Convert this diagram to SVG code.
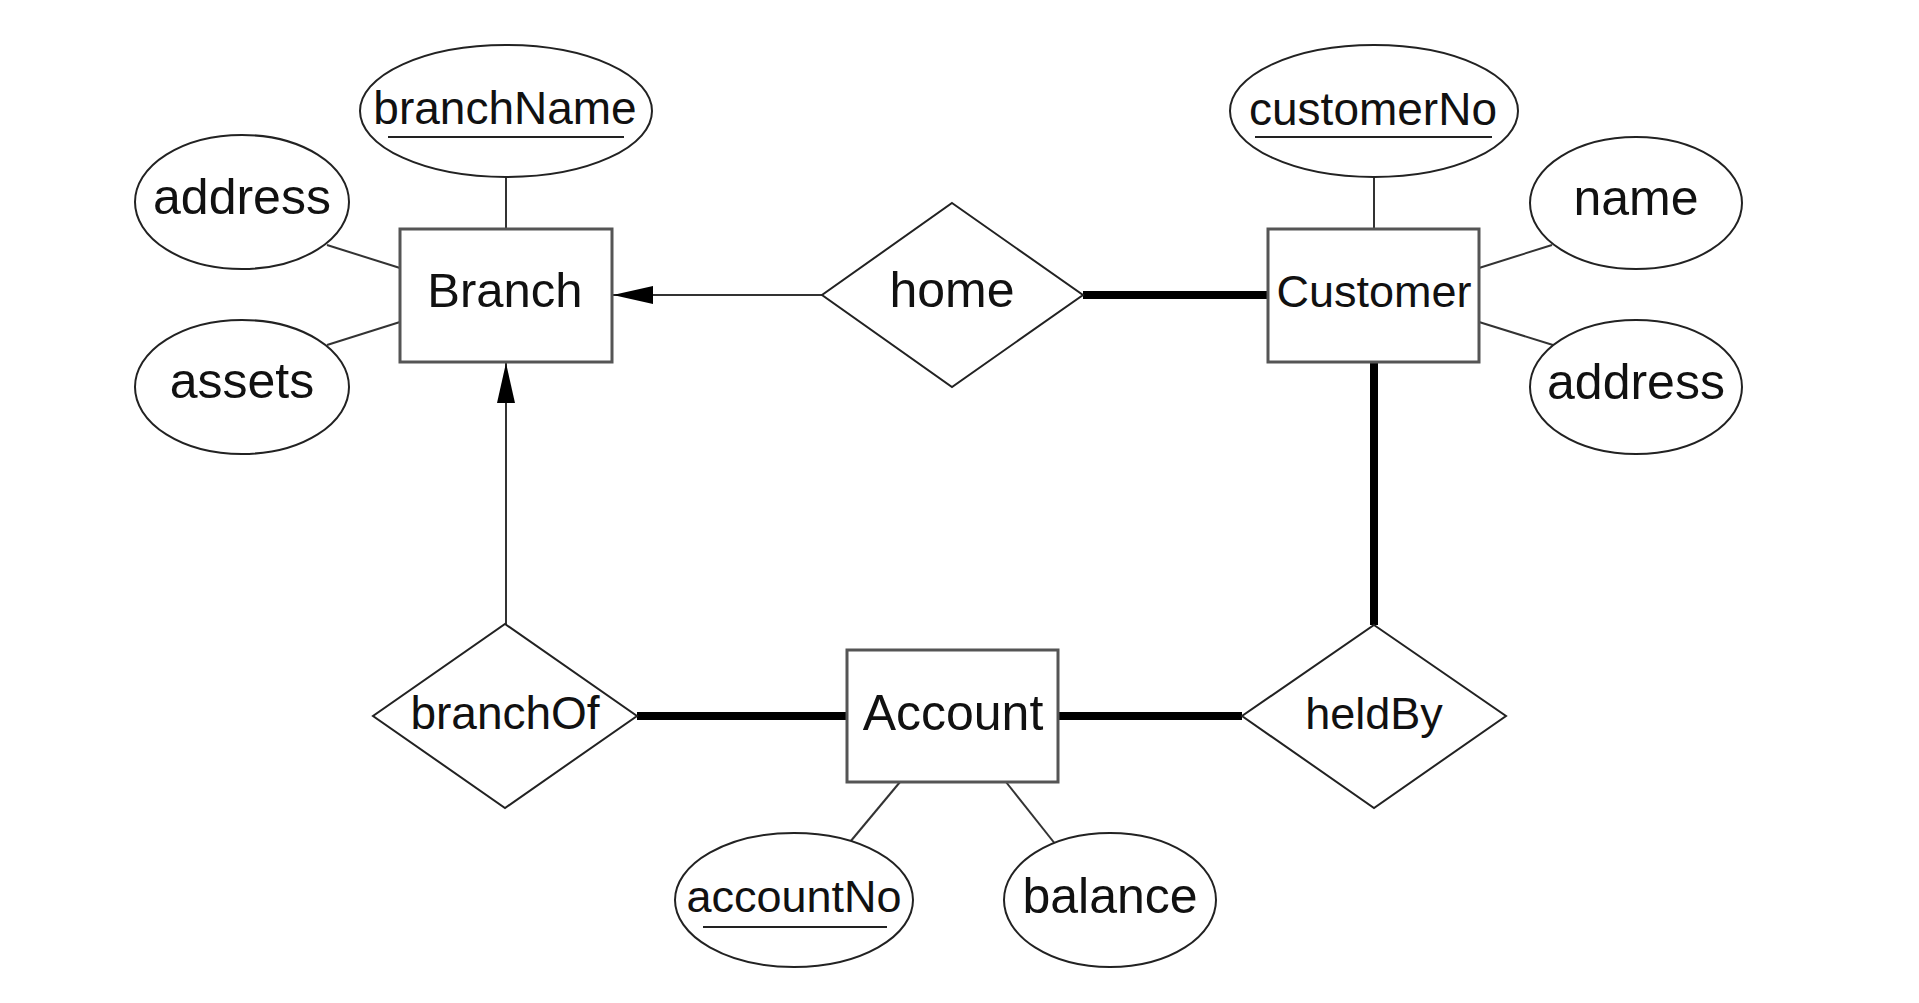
<svg xmlns="http://www.w3.org/2000/svg" width="1919" height="1003" viewBox="0 0 1919 1003">
<style>
text{font-family:"Liberation Sans",Arial,Helvetica,sans-serif;fill:#111;text-anchor:middle}
.ent{fill:#fff;stroke:#555;stroke-width:3}
.att{fill:#fff;stroke:#222;stroke-width:2}
.rel{fill:#fff;stroke:#222;stroke-width:2}
.thin{stroke:#333;stroke-width:2;fill:none}
.thick{stroke:#000;stroke-width:8;fill:none}
.ul{stroke:#222;stroke-width:2}
</style>
<defs>
<marker id="arr" viewBox="0 -10 40 20" refX="40" refY="0" markerWidth="40" markerHeight="20" markerUnits="userSpaceOnUse" orient="auto">
<path d="M0,-9 L40,0 L0,9 z" fill="#000"/>
</marker>
</defs>
<rect width="1919" height="1003" fill="#fff"/>
<g id="connectors">
<line class="thin" x1="506" y1="177" x2="506" y2="229"/>
<line class="thin" x1="327" y1="245" x2="400" y2="268"/>
<line class="thin" x1="327" y1="345" x2="400" y2="322"/>
<line class="thin" x1="1374" y1="177" x2="1374" y2="229"/>
<line class="thin" x1="1479" y1="268" x2="1552" y2="245"/>
<line class="thin" x1="1479" y1="322" x2="1553" y2="345"/>
<line class="thin" x1="900" y1="782" x2="850" y2="842"/>
<line class="thin" x1="1006" y1="782" x2="1056" y2="845"/>
<line class="thin" x1="822" y1="295" x2="613" y2="295" marker-end="url(#arr)"/>
<line class="thin" x1="506" y1="624" x2="506" y2="363" marker-end="url(#arr)"/>
<line class="thick" x1="1083" y1="295" x2="1268" y2="295"/>
<line class="thick" x1="1374" y1="362" x2="1374" y2="625"/>
<line class="thick" x1="637" y1="716" x2="847" y2="716"/>
<line class="thick" x1="1058" y1="716" x2="1242" y2="716"/>
</g>
<g id="branchName">
<ellipse class="att" cx="506" cy="111" rx="146" ry="66"/>
<text x="505" y="124" font-size="46">branchName</text>
<line class="ul" x1="388" y1="137" x2="624" y2="137"/>
</g>
<g id="branchAddress">
<ellipse class="att" cx="242" cy="202" rx="107" ry="67"/>
<text x="242" y="214" font-size="50">address</text>
</g>
<g id="assets">
<ellipse class="att" cx="242" cy="387" rx="107" ry="67"/>
<text x="242" y="398" font-size="50">assets</text>
</g>
<g id="Branch">
<rect class="ent" x="400" y="229" width="212" height="133"/>
<text x="505" y="307" font-size="49">Branch</text>
</g>
<g id="home">
<polygon class="rel" points="952,203 1083,295 952,387 822,295"/>
<text x="952" y="307" font-size="50">home</text>
</g>
<g id="Customer">
<rect class="ent" x="1268" y="229" width="211" height="133"/>
<text x="1374" y="307" font-size="45">Customer</text>
</g>
<g id="customerNo">
<ellipse class="att" cx="1374" cy="111" rx="144" ry="66"/>
<text x="1373" y="125" font-size="46">customerNo</text>
<line class="ul" x1="1255" y1="137" x2="1492" y2="137"/>
</g>
<g id="name">
<ellipse class="att" cx="1636" cy="203" rx="106" ry="66"/>
<text x="1636" y="215" font-size="50">name</text>
</g>
<g id="customerAddress">
<ellipse class="att" cx="1636" cy="387" rx="106" ry="67"/>
<text x="1636" y="399" font-size="50">address</text>
</g>
<g id="branchOf">
<polygon class="rel" points="505,624 637,716 505,808 373,716"/>
<text x="505" y="729" font-size="46">branchOf</text>
</g>
<g id="Account">
<rect class="ent" x="847" y="650" width="211" height="132"/>
<text x="953" y="730" font-size="50">Account</text>
</g>
<g id="heldBy">
<polygon class="rel" points="1374,625 1506,716 1374,808 1242,716"/>
<text x="1374" y="729" font-size="45">heldBy</text>
</g>
<g id="accountNo">
<ellipse class="att" cx="794" cy="900" rx="119" ry="67"/>
<text x="794" y="912" font-size="45">accountNo</text>
<line class="ul" x1="703" y1="927" x2="887" y2="927"/>
</g>
<g id="balance">
<ellipse class="att" cx="1110" cy="900" rx="106" ry="67"/>
<text x="1110" y="913" font-size="50">balance</text>
</g>
</svg>
